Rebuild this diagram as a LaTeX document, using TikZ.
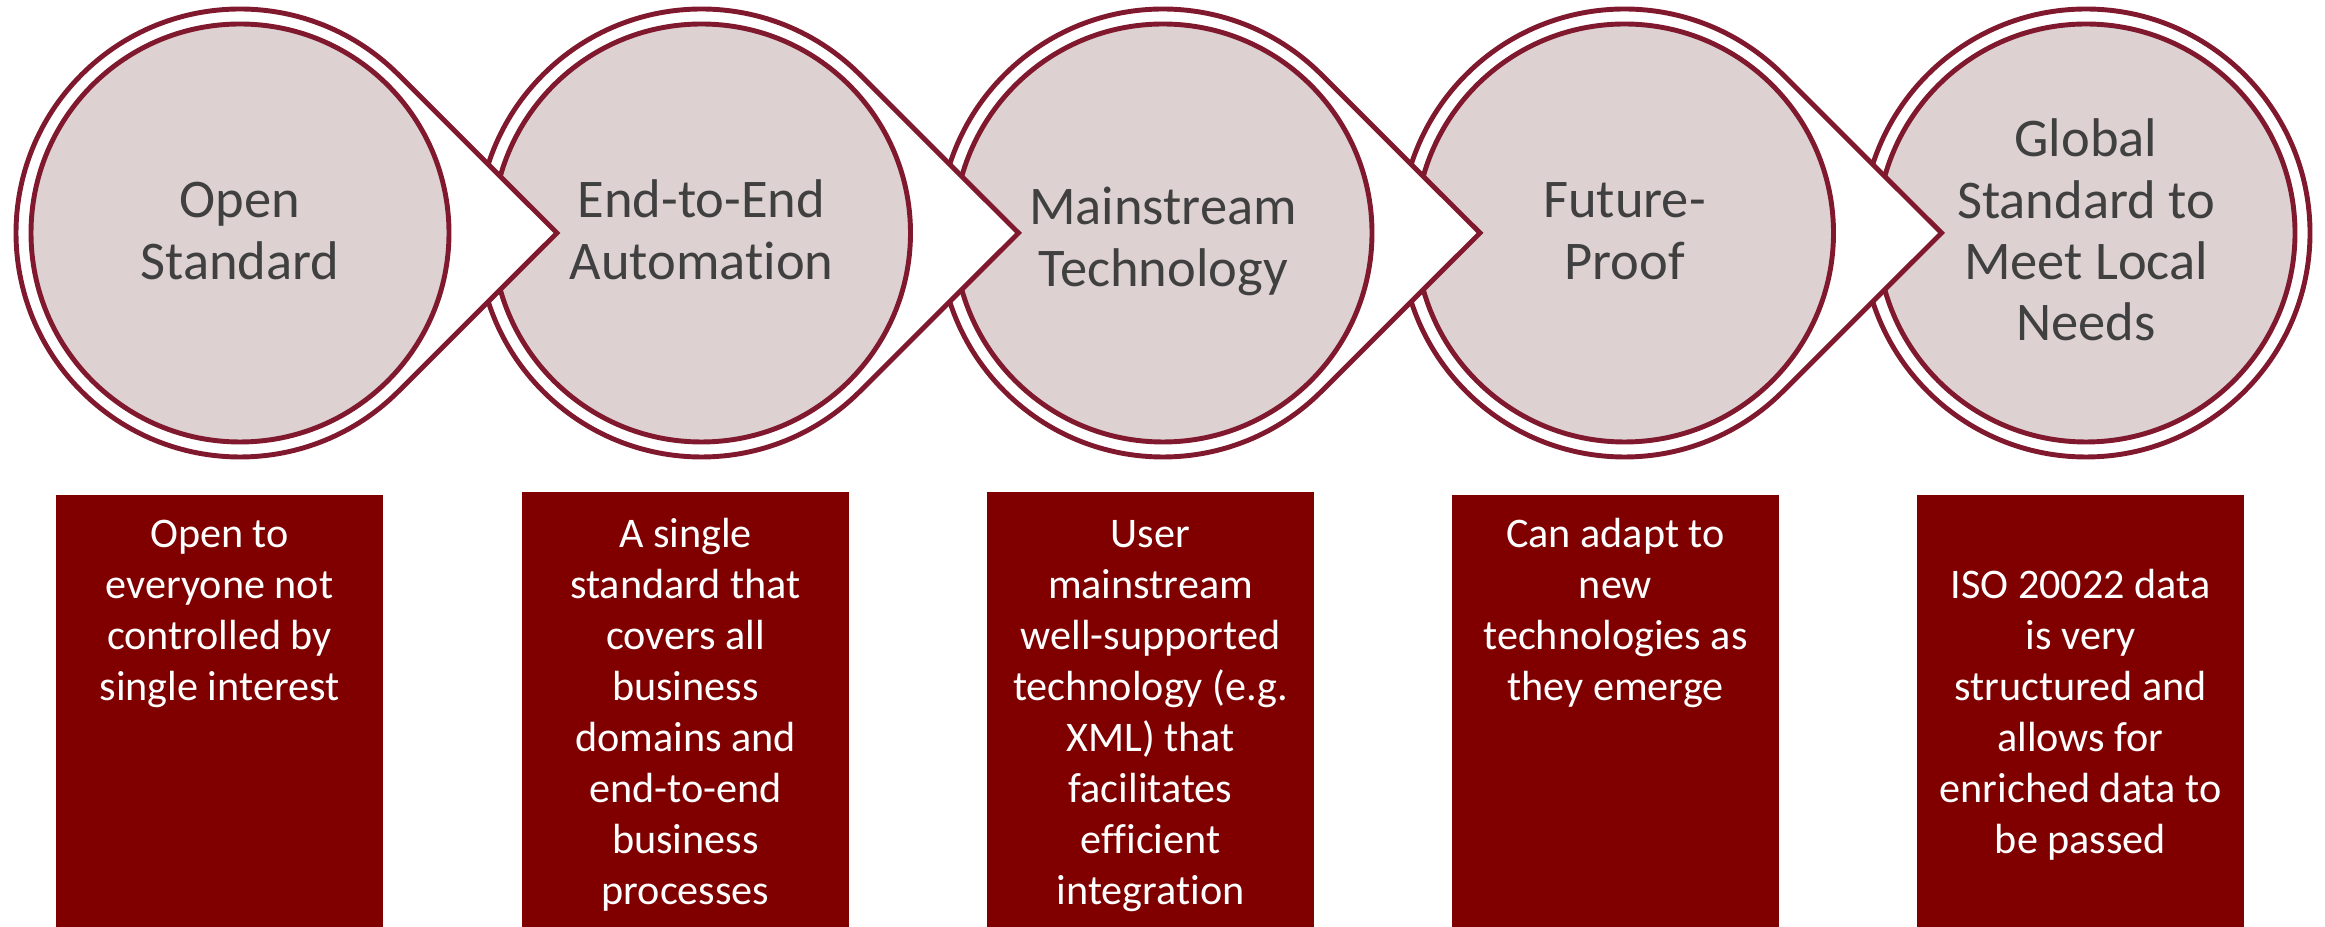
\documentclass[tikz,border=0pt]{standalone}
\usepackage{fontspec}
\setmainfont{Carlito}[Ligatures=NoCommon]
\usetikzlibrary{calc}

\definecolor{ringred}{RGB}{128,24,46}
\definecolor{discfill}{RGB}{221,209,210}
\definecolor{boxred}{RGB}{128,0,0}
\definecolor{captiongray}{RGB}{64,64,64}

% centred multi-line text whose base anchor is the first baseline
\newcommand\stacklines[1]{\begin{tabular}[t]{@{}c@{}}#1\end{tabular}}

\tikzset{
  ring/.style={draw=ringred, line width=1.4pt, fill=white, line join=miter},
  disc/.style={circle, draw=ringred, line width=1.4pt, fill=discfill,
               minimum size=41.8mm, inner sep=0pt},
  title/.style={anchor=base, inner sep=0pt, text=captiongray,
                font=\fontsize{15.5}{17.4}\selectfont},
  panel/.style={fill=boxred, draw=none, inner sep=0pt,
                minimum width=32.7mm, anchor=north},
  blurb/.style={anchor=base, inner sep=0pt, text=white,
                font=\fontsize{12}{14.5}\selectfont},
}

\begin{document}
\begin{tikzpicture}[x=0.1mm, y=-0.1mm]
\useasboundingbox (0,0) rectangle (2325,927);

% ring centres and chevron tips
\coordinate (o1) at (240,233);
\coordinate (o2) at (701.5,233);
\coordinate (o3) at (1163,233);
\coordinate (o4) at (1624.5,233);
\coordinate (o5) at (2086,233);
\foreach \i in {1,...,4} {
  \coordinate (p\i) at ($(o\i)+(31.7mm,0)$);
}

% last ring: plain outer circle
\draw[ring] (o5) circle[radius=22.4mm];
\node[disc] (c5) at (o5) {};
\node[title] (l5) at (2086,157) {\stacklines{Global\\Standard to\\Meet Local\\Needs}};

% rings with a chevron pointing to the next one, drawn right to left
\foreach \i/\tx/\ty/\txt in {
  4/1624.5/218/{Future-\\Proof},
  3/1163/225/{Mainstream\\Technology},
  2/701.5/218/{End-to-End\\Automation},
  1/240/218/{Open\\Standard}} {
  \draw[ring] ($(o\i)+(45:22.4mm)$) -- (p\i) -- ($(o\i)+(-45:22.4mm)$)
    arc[start angle=-45, end angle=-315, radius=22.4mm] -- cycle;
  \node[disc] (c\i) at (o\i) {};
  \node[title] (l\i) at (\tx,\ty) {\stacklines{\txt}};
}

% description panels
\node[panel, minimum height=43.3mm] (b1) at (219.5,494) {};
\node[panel, minimum height=43.6mm] (b2) at (685.5,491) {};
\node[panel, minimum height=43.6mm] (b3) at (1150.5,491) {};
\node[panel, minimum height=43.3mm] (b4) at (1615.5,494) {};
\node[panel, minimum height=43.3mm] (b5) at (2080.5,494) {};

\node[blurb] (d1) at (219.5,548) {\stacklines{Open to\\everyone not\\controlled by\\single interest}};
\node[blurb] (d2) at (685.5,548) {\stacklines{A single\\standard that\\covers all\\business\\domains and\\end-to-end\\business\\processes}};
\node[blurb] (d3) at (1150.5,548) {\stacklines{User\\mainstream\\well-supported\\technology (e.g.\\XML) that\\facilitates\\efficient\\integration}};
\node[blurb] (d4) at (1615.5,548) {\stacklines{Can adapt to\\new\\technologies as\\they emerge}};
\node[blurb] (d5) at (2080.5,599) {\stacklines{ISO 20022 data\\is very\\structured and\\allows for\\enriched data to\\be passed}};
\end{tikzpicture}
\end{document}
